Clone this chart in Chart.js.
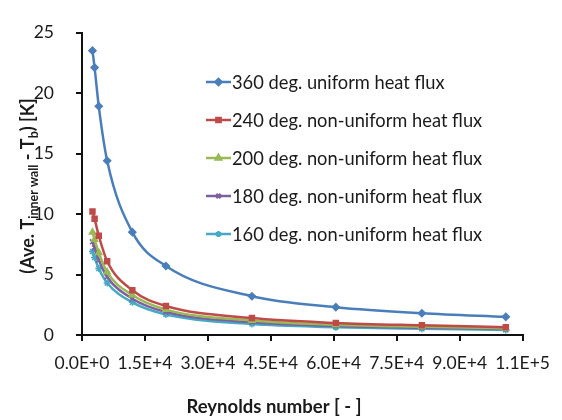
<!DOCTYPE html>
<html>
<head>
<meta charset="utf-8">
<script src="https://cdn.jsdelivr.net/npm/chart.js@4.4.1/dist/chart.umd.min.js"></script>
<style>
  html, body { margin: 0; padding: 0; background: #fff; }
  #wrap { width: 562px; height: 420px; }
</style>
</head>
<body>
<div id="wrap"><canvas id="myChart" width="562" height="420"></canvas></div>
<script>
// Data
var reynolds = [2500, 3000, 4000, 6000, 12000, 20000, 40500, 60500, 81000, 101000];
var deg360 = [23.5, 22.1, 18.9, 14.4, 8.5, 5.7, 3.2, 2.3, 1.8, 1.5];
var deg240 = [10.2, 9.6, 8.2, 6.1, 3.7, 2.4, 1.4, 1.0, 0.8, 0.65];
var deg200 = [8.5, 7.9, 6.8, 5.2, 3.3, 2.1, 1.2, 0.85, 0.68, 0.55];
var deg180 = [7.7, 7.2, 6.2, 4.8, 3.0, 1.9, 1.05, 0.75, 0.6, 0.5];
var deg160 = [6.9, 6.4, 5.5, 4.3, 2.7, 1.7, 0.9, 0.65, 0.52, 0.42];

var seriesNames = [
  "360 deg. uniform heat flux",
  "240 deg. non-uniform heat flux",
  "200 deg. non-uniform heat flux",
  "180 deg. non-uniform heat flux",
  "160 deg. non-uniform heat flux"
];
var seriesValues = [deg360, deg240, deg200, deg180, deg160];
var colors = ["#4A7EBB", "#BE4B48", "#98B954", "#7D60A0", "#46AAC5"];
var markers = ["rectRot", "rect", "triangle", "crossRot", "star"];

var FONT = "Lato, 'Liberation Sans', sans-serif";
var TEXT = "#1a1a1a";

function makeDatasets() {
  var sets = [];
  for (var i = 0; i < seriesValues.length; i++) {
    var pts = [];
    for (var j = 0; j < reynolds.length; j++) {
      pts.push({ x: reynolds[j], y: seriesValues[i][j] });
    }
    sets.push({
      label: seriesNames[i],
      data: pts,
      borderColor: colors[i],
      backgroundColor: colors[i],
      borderWidth: 2.5,
      pointStyle: markers[i],
      pointRadius: 3.5,
      pointBorderWidth: 1.5,
      cubicInterpolationMode: "monotone",
      fill: false
    });
  }
  return sets;
}

// legend drawn inside the plot, like the Excel original
var innerLegend = {
  id: "innerLegend",
  afterDraw: function (chart) {
    var ctx = chart.ctx;
    ctx.save();
    ctx.font = "18.3px " + FONT;
    ctx.textBaseline = "middle";
    chart.data.datasets.forEach(function (ds, i) {
      var y = 82 + i * 38;
      ctx.strokeStyle = ds.borderColor;
      ctx.fillStyle = ds.borderColor;
      ctx.lineWidth = 2.5;
      ctx.beginPath();
      ctx.moveTo(206, y);
      ctx.lineTo(231, y);
      ctx.stroke();
      Chart.helpers.drawPoint(ctx, {
        pointStyle: ds.pointStyle, radius: 3, borderWidth: 1
      }, 218.5, y);
      ctx.fillStyle = TEXT;
      ctx.textAlign = "left";
      ctx.fillText(ds.label, 232, y + 1);
    });
    ctx.restore();
  }
};

// axis titles with subscripts
var axisTitles = {
  id: "axisTitles",
  afterDraw: function (chart) {
    var ctx = chart.ctx;
    ctx.save();
    ctx.fillStyle = TEXT;
    ctx.textBaseline = "middle";
    ctx.textAlign = "center";
    ctx.font = "bold 18.5px " + FONT;
    ctx.fillText("Reynolds number [ - ]", 274, 407);

    var parts = [
      ["(Ave. T", 18, 0],
      ["inner wall", 12.5, 4],
      [" - T", 18, 0],
      ["b", 12.5, 4],
      [") [K]", 18, 0]
    ];
    var total = 0;
    parts.forEach(function (p) {
      ctx.font = "bold " + p[1] + "px " + FONT;
      total += ctx.measureText(p[0]).width;
    });
    ctx.translate(28, 186);
    ctx.rotate(-Math.PI / 2);
    ctx.textAlign = "left";
    ctx.textBaseline = "alphabetic";
    var x = -total / 2;
    parts.forEach(function (p) {
      ctx.font = "bold " + p[1] + "px " + FONT;
      ctx.fillText(p[0], x, 6 + p[2]);
      x += ctx.measureText(p[0]).width;
    });
    ctx.restore();
  }
};

function createChart() {
  var ctx = document.getElementById("myChart").getContext("2d");
  new Chart(ctx, {
    type: "line",
    data: { datasets: makeDatasets() },
    plugins: [innerLegend, axisTitles],
    options: {
      responsive: false,
      animation: false,
      layout: { padding: { left: 0, right: 29, top: 20, bottom: 0 } },
      plugins: { legend: { display: false }, tooltip: { enabled: false } },
      scales: {
        x: {
          type: "linear",
          min: 0,
          max: 105000,
          afterFit: function (s) { s.height = 85; },
          border: { color: "#111", width: 2 },
          grid: { display: true, drawOnChartArea: false, drawTicks: true, tickLength: 6, color: "#111", lineWidth: 2 },
          ticks: {
            stepSize: 15000,
            padding: 12,
            color: TEXT,
            font: { family: FONT, size: 17.5 },
            maxRotation: 0,
            autoSkip: false,
            callback: function (v) { return v.toExponential(1).toUpperCase(); }
          }
        },
        y: {
          min: 0,
          max: 25,
          afterFit: function (s) { s.width = 82; },
          border: { color: "#111", width: 2 },
          grid: { display: true, drawOnChartArea: false, drawTicks: true, tickLength: 6, color: "#111", lineWidth: 2 },
          ticks: {
            stepSize: 5,
            padding: 22,
            color: TEXT,
            font: { family: FONT, size: 17.5 }
          }
        }
      }
    }
  });
}

createChart();
</script>
</body>
</html>
